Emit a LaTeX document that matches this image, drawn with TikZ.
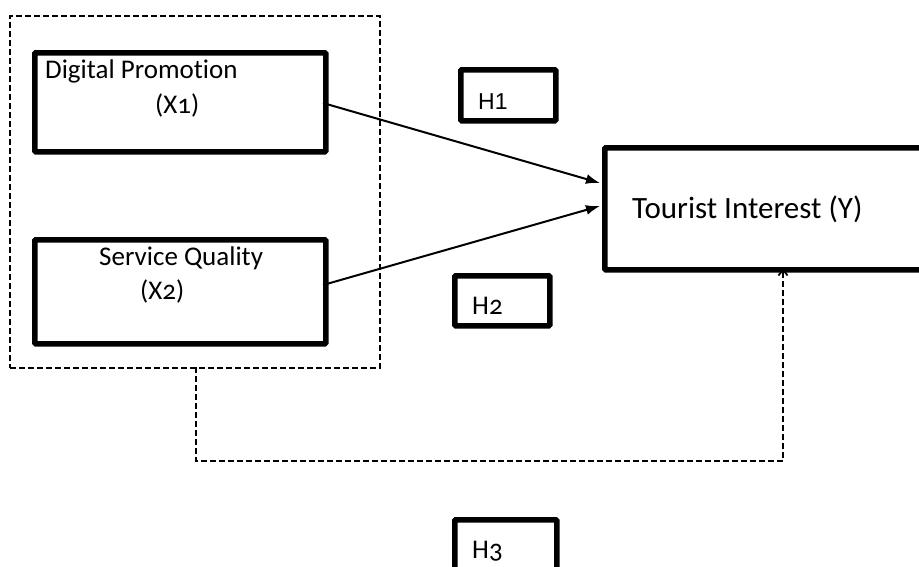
\documentclass[tikz,border=0pt]{standalone}
\usepackage{fontspec}
\setmainfont[Numbers=OldStyle, RawFeature=-liga]{Carlito}
\newfontfamily\hfont{Liberation Sans}
\usetikzlibrary{arrows.meta}
\tikzset{
  thickbox/.style={draw, line width=5.5pt, rounded corners=1pt, inner sep=0pt, anchor=north west},
  lbl/.style={inner sep=0pt, font=\fontsize{27}{30}\selectfont},
  hlbl/.style={inner sep=0pt, font=\fontsize{27}{30}\selectfont},
  dash box/.style={draw, line width=1.8pt, dash pattern=on 6pt off 3pt},
  solidarrow/.style={line width=2pt, -{Latex[length=14pt,width=10pt]}},
  dasharrow/.style={line width=1.8pt, dash pattern=on 6pt off 3pt, -{Straight Barb[length=6pt,width=9pt]}},
}
\begin{document}
\begin{tikzpicture}[x=1pt,y=-1pt]
\useasboundingbox (0,0) rectangle (919,566);
\clip (0,0) rectangle (919,566);
\fill[white] (0,0) rectangle (919,566);
% outer dashed group
\node[dash box, inner sep=0pt, anchor=north west, minimum width=370pt, minimum height=352pt] (grp) at (9,15) {};
% boxes
\node[thickbox, minimum width=291pt, minimum height=99pt] (dp) at (32,50) {};
\node[thickbox, minimum width=291pt, minimum height=104pt] (sq) at (32,237) {};
\node[thickbox, minimum width=340pt, minimum height=122pt] (ti) at (602,145) {};
\node[thickbox, minimum width=95pt, minimum height=51pt] (h1) at (458,67) {};
\node[thickbox, minimum width=95pt, minimum height=50pt] (h2) at (452,273) {};
\node[thickbox, minimum width=102pt, minimum height=60pt] (h3) at (452,517) {};
% texts
\node[lbl, anchor=west] (dpt) at (45,71) {Digital Promotion};
\node[lbl, anchor=west] (dpx) at (155,105) {(X1)};
\node[lbl, anchor=west] (sqt) at (99,258) {Service Quality};
\node[lbl, anchor=west] (sqx) at (140,291) {(X2)};
\node[lbl, anchor=west, font=\fontsize{31}{34}\selectfont] (tit) at (632,209) {Tourist Interest (Y)};
\node[hlbl, anchor=west, font=\hfont\fontsize{23}{26}\selectfont] (h1t) at (478,102) {H1};
\node[hlbl, anchor=west] (h2t) at (472,306) {H2};
\node[hlbl, anchor=west] (h3t) at (472,551) {H3};
% connectors
\coordinate (a1) at (323,103);
\coordinate (a2) at (323,285);
\coordinate (e1) at (600,183);
\coordinate (e2) at (600,206);
\draw[solidarrow] (a1) -- (e1);
\draw[solidarrow] (a2) -- (e2);
\coordinate (g1) at (196,367);
\coordinate (g2) at (196,461);
\coordinate (g3) at (783,461);
\coordinate (g4) at (783,268);
\draw[dasharrow] (g1) -- (g2) -- (g3) -- (g4);
\end{tikzpicture}
\end{document}
